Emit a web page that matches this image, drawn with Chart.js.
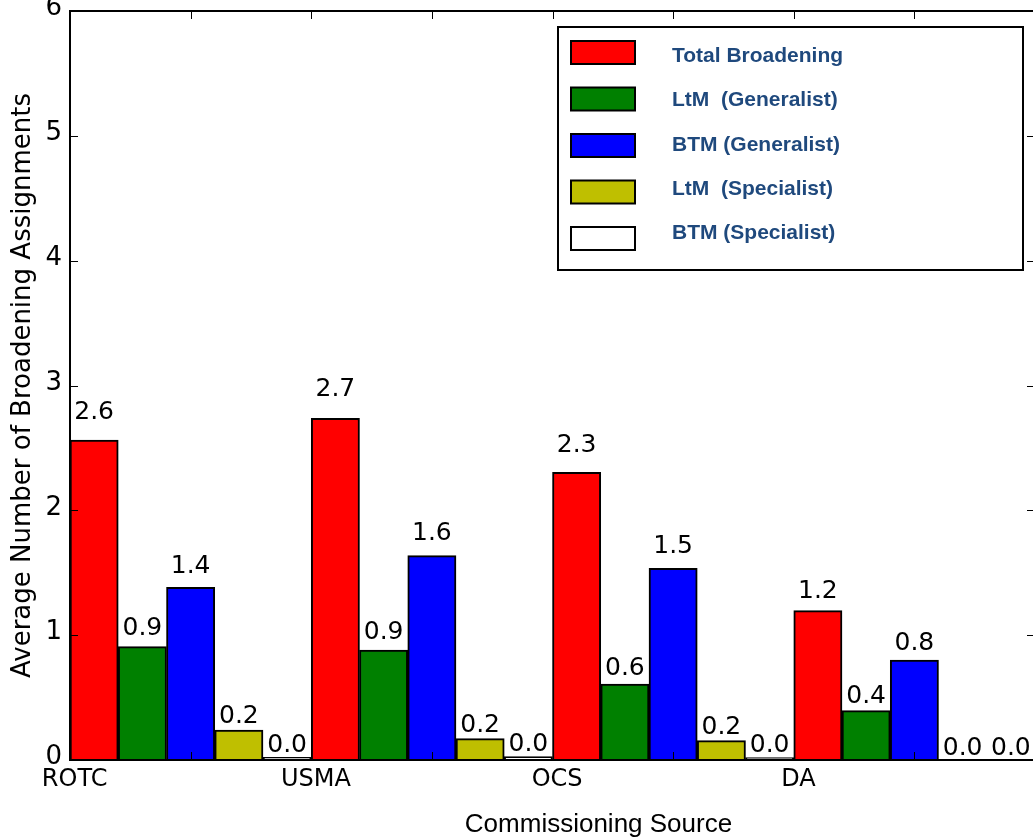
<!DOCTYPE html>
<html>
<head>
<meta charset="utf-8">
<script src="https://cdn.jsdelivr.net/npm/chart.js@4.4.1/dist/chart.umd.min.js"></script>
<style>
  html, body { margin: 0; padding: 0; background: #fff; overflow: hidden; }
  canvas { display: block; }
</style>
</head>
<body>
<canvas id="chart" width="1040" height="839"></canvas>
<script>
// Commissioning sources (categories)
const sources = ['ROTC', 'USMA', 'OCS', 'DA'];

// Series names, in legend order
const seriesNames = ['Total Broadening', 'LtM  (Generalist)', 'BTM (Generalist)', 'LtM  (Specialist)', 'BTM (Specialist)'];

// Average number of broadening assignments per source
const totalBroadening = [2.563, 2.737, 2.305, 1.196];
const ltmGeneralist   = [0.908, 0.881, 0.609, 0.395];
const btmGeneralist   = [1.383, 1.637, 1.536, 0.801];
const ltmSpecialist   = [0.240, 0.171, 0.155, 0.0];
const btmSpecialist   = [0.021, 0.027, 0.020, 0.0];

// Y axis ticks
const yTicks = [0, 1, 2, 3, 4, 5, 6];

const seriesValues = [totalBroadening, ltmGeneralist, btmGeneralist, ltmSpecialist, btmSpecialist];
const seriesColors = ['#ff0000', '#008000', '#0000ff', '#bfbf00', '#ffffff'];

// Frame, inward tick marks, value labels, legend box and x title
const decorations = {
  id: 'decorations',
  afterDatasetsDraw(chart) {
    const { ctx, chartArea: a, scales: { x, y } } = chart;
    ctx.save();

    // value labels above bars (at 1.05 x value)
    ctx.fillStyle = '#000';
    ctx.font = '25px "DejaVu Sans"';
    ctx.textAlign = 'center';
    ctx.textBaseline = 'alphabetic';
    chart.data.datasets.forEach((ds, di) => {
      const meta = chart.getDatasetMeta(di);
      meta.data.forEach((bar, i) => {
        const v = ds.data[i];
        const py = y.getPixelForValue(v * 1.05) - 5.5;
        ctx.fillText(v.toFixed(1), bar.x, py);
      });
    });

    // tick marks, pointing inward on all four sides
    ctx.strokeStyle = '#000';
    ctx.lineWidth = 1;
    const tl = 8;
    const half = (x.getPixelForValue(1) - x.getPixelForValue(0)) / 2;
    const xt = [];
    sources.forEach((_, i) => {
      const c = x.getPixelForValue(i);
      xt.push(c - half, c);
    });
    ctx.beginPath();
    xt.forEach(px => {
      const p = Math.round(px) + 0.5;
      ctx.moveTo(p, a.bottom); ctx.lineTo(p, a.bottom - tl);
      ctx.moveTo(p, a.top); ctx.lineTo(p, a.top + tl);
    });
    yTicks.forEach(v => {
      const p = Math.round(y.getPixelForValue(v)) + 0.5;
      ctx.moveTo(a.left, p); ctx.lineTo(a.left + tl, p);
      ctx.moveTo(a.right, p); ctx.lineTo(a.right - tl, p);
    });
    ctx.stroke();

    // axes frame
    ctx.lineWidth = 2;
    ctx.strokeRect(a.left, a.top, a.right - a.left, a.bottom - a.top);

    // legend box
    const bx = a.right - 477, by = a.top + 16, bw = 465, bh = 243;
    ctx.fillStyle = '#fff';
    ctx.fillRect(bx, by, bw, bh);
    ctx.lineWidth = 2;
    ctx.strokeStyle = '#000';
    ctx.strokeRect(bx, by, bw, bh);
    ctx.font = 'bold 21px "Liberation Sans"';
    ctx.textAlign = 'left';
    ctx.textBaseline = 'alphabetic';
    chart.data.datasets.forEach((ds, i) => {
      const sy = by + 14 + 46.5 * i;
      ctx.fillStyle = ds.backgroundColor;
      ctx.fillRect(bx + 13, sy, 64, 23);
      ctx.strokeStyle = '#000';
      ctx.lineWidth = 2;
      ctx.strokeRect(bx + 13, sy, 64, 23);
      ctx.fillStyle = '#1f497d';
      ctx.fillText(ds.label, bx + 114, by + 35 + 44.3 * i);
    });

    // x axis title
    ctx.fillStyle = '#000';
    ctx.font = '26px "Liberation Sans"';
    ctx.textAlign = 'center';
    ctx.fillText('Commissioning Source', (a.left + a.right) / 2 + 46, 832);

    ctx.restore();
  }
};

new Chart(document.getElementById('chart'), {
  type: 'bar',
  data: {
    labels: sources,
    datasets: seriesNames.map((name, i) => ({
      label: name,
      data: seriesValues[i],
      backgroundColor: seriesColors[i],
      borderColor: '#000',
      borderWidth: 2,
      categoryPercentage: 1,
      barPercentage: 1
    }))
  },
  options: {
    responsive: false,
    animation: false,
    layout: { padding: { top: 11, right: 5, left: 0, bottom: 0 } },
    plugins: { legend: { display: false }, tooltip: { enabled: false } },
    scales: {
      x: {
        grid: { display: false, drawTicks: false },
        border: { display: false },
        ticks: { labelOffset: -116, padding: 5, color: '#000', font: { family: 'DejaVu Sans', size: 24 }, maxRotation: 0, autoSkip: false },
        afterFit(s) { s.height = 79; s.paddingLeft = 0; s.paddingRight = 0; }
      },
      y: {
        min: 0, max: 6,
        grid: { display: false, drawTicks: false },
        border: { display: false },
        ticks: { stepSize: 1, padding: 8, labelOffset: -2.5, color: '#000', font: { family: 'DejaVu Sans', size: 26 } },
        title: {
          display: true,
          text: 'Average Number of Broadening Assignments',
          color: '#000',
          font: { family: 'DejaVu Sans', size: 26 },
          padding: { top: 8, bottom: 0 }
        },
        afterFit(s) { s.width = 70; s.paddingTop = 0; s.paddingBottom = 0; }
      }
    }
  },
  plugins: [decorations]
});
</script>
</body>
</html>
